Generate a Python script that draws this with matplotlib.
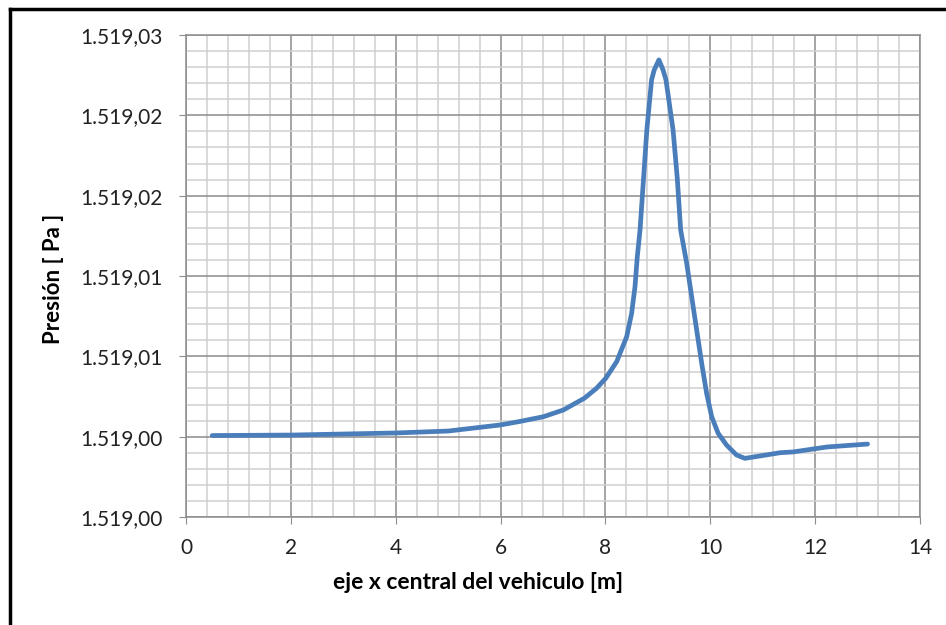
import matplotlib
matplotlib.use("Agg")
import matplotlib.pyplot as plt
from matplotlib.ticker import MultipleLocator
from matplotlib.lines import Line2D

# posición sobre el eje central [m] y presión [Pa]
x_m = [0.50, 2.0, 4.0, 5.0, 6.0, 6.34, 6.815, 7.197, 7.597, 7.83, 8.005, 8.215,
       8.405, 8.50, 8.564, 8.608, 8.66, 8.79, 8.88, 8.93, 9.02, 9.10, 9.155, 9.29,
       9.37, 9.435, 9.55, 9.645, 9.74, 9.836, 9.93, 10.027, 10.15, 10.31, 10.50, 10.66,
       10.95, 11.33, 11.58, 12.23, 13.0]
presion = [1519.00007, 1519.0001, 1519.00023, 1519.00035, 1519.00073, 1519.00093,
           1519.00124, 1519.00166, 1519.00239, 1519.00301, 1519.00363, 1519.00467,
           1519.00622, 1519.00768, 1519.00934, 1519.0112, 1519.01286, 1519.01909,
           1519.0222, 1519.02282, 1519.02345, 1519.02282, 1519.0222, 1519.01909,
           1519.0161, 1519.01286, 1519.01079, 1519.00871, 1519.00664, 1519.00457, 1519.0027,
           1519.00124, 1519.00021, 1518.99948, 1518.99886, 1518.99865, 1518.9988,
           1518.999, 1518.99905, 1518.99936, 1518.99954]

x_ticks = [0, 2, 4, 6, 8, 10, 12, 14]
y_ticks = [1518.995, 1519.000, 1519.005, 1519.010, 1519.015, 1519.020, 1519.025]
y_labels = ["1.519,00", "1.519,00", "1.519,01", "1.519,01", "1.519,02", "1.519,02", "1.519,03"]

plt.rcParams["font.family"] = ["Lato", "DejaVu Sans"]

fig = plt.figure(figsize=(9.46, 6.25), dpi=100)
ax = fig.add_axes([186 / 946, 1 - 517 / 625, (920 - 186) / 946, (517 - 35) / 625])

ax.plot(x_m, presion, color="#4A7EBB", lw=3.4, solid_capstyle="round",
        solid_joinstyle="round", zorder=3)

ax.set_xlim(0, 14)
ax.set_ylim(1518.995, 1519.025)
ax.set_xticks(x_ticks)
ax.set_yticks(y_ticks)
ax.set_yticklabels(y_labels)
ax.xaxis.set_minor_locator(MultipleLocator(0.4))
ax.yaxis.set_minor_locator(MultipleLocator(0.001))

ax.grid(which="minor", color="#CFCFCF", lw=1.1)
ax.grid(which="major", color="#8C8C8C", lw=1.1)
ax.set_axisbelow(True)
ax.tick_params(which="minor", length=0)
ax.tick_params(which="major", length=5, color="#8C8C8C", labelsize=15,
               labelcolor="#222222")
ax.tick_params(axis="x", pad=10)
ax.tick_params(axis="y", pad=12)
for s in ax.spines.values():
    s.set_color("#8C8C8C")
    s.set_linewidth(1.1)

ax.set_xlabel("eje x central del vehiculo [m]", fontsize=16.5, fontweight="bold")
ax.xaxis.set_label_coords((478 - 186) / 734, -0.115)
ax.set_ylabel("Presión [ Pa ]", fontsize=16, fontweight="bold")
ax.yaxis.set_label_coords(-0.166, 0.495)

# marco exterior (solo izquierda y arriba visibles)
fig.add_artist(Line2D([9.5 / 946, 9.5 / 946], [0, 1 - 8.5 / 625], color="black", lw=2.5,
                      transform=fig.transFigure))
fig.add_artist(Line2D([9.5 / 946, 1], [1 - 8.5 / 625, 1 - 8.5 / 625], color="black", lw=2.5,
                      transform=fig.transFigure))

fig.savefig("out.png", dpi=100)
